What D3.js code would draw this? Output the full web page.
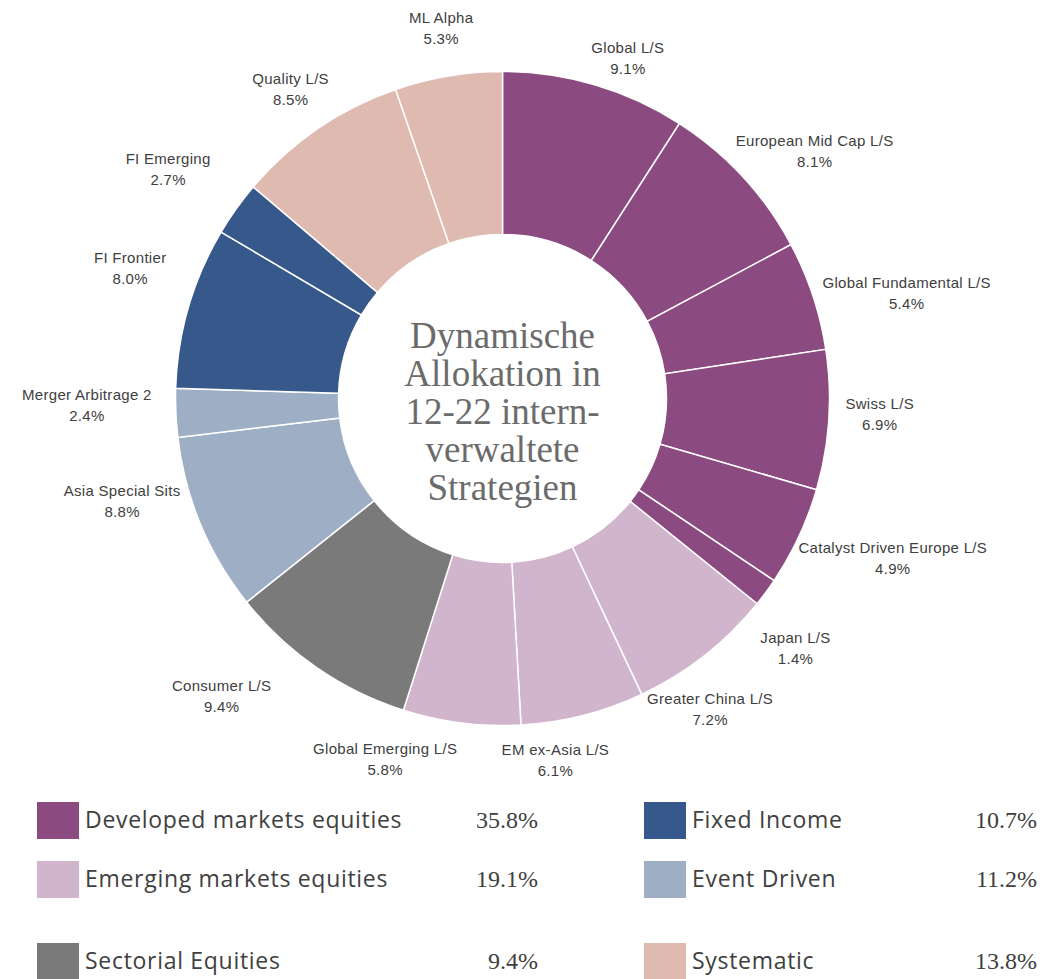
<!DOCTYPE html>
<html>
<head>
<meta charset="utf-8">
<script src="https://cdn.jsdelivr.net/npm/d3@7"></script>
<style>
  body { margin: 0; background: #fff; }
  .slice-label { font-family: "Liberation Sans", Arial, sans-serif; font-size: 15px; letter-spacing: 0.3px; fill: #404040; }
  .center-title { font-family: "Liberation Serif", serif; font-size: 37px; fill: #6b6b6b; }
  .legend-name { font-family: "Open Sans", sans-serif; font-size: 23px; letter-spacing: 0.7px; fill: #404040; }
  .legend-value { font-family: "Liberation Serif", serif; font-size: 24px; fill: #404040; }
</style>
</head>
<body>
<div id="chart"></div>
<script>
// strategies, clockwise from 12 o'clock
const strategies = ["Global L/S", "European Mid Cap L/S", "Global Fundamental L/S", "Swiss L/S",
  "Catalyst Driven Europe L/S", "Japan L/S", "Greater China L/S", "EM ex-Asia L/S",
  "Global Emerging L/S", "Consumer L/S", "Asia Special Sits", "Merger Arbitrage 2",
  "FI Frontier", "FI Emerging", "Quality L/S", "ML Alpha"];
const weights = [9.1, 8.1, 5.4, 6.9, 4.9, 1.4, 7.2, 6.1, 5.8, 9.4, 8.8, 2.4, 8.0, 2.7, 8.5, 5.3];
const groupOf = ["DM", "DM", "DM", "DM", "DM", "DM", "EM", "EM", "EM", "SE", "ED", "ED", "FI", "FI", "SY", "SY"];

const groupKeys = ["DM", "EM", "SE", "FI", "ED", "SY"];
const groupNames = ["Developed markets equities", "Emerging markets equities", "Sectorial Equities",
  "Fixed Income", "Event Driven", "Systematic"];
const groupColors = ["#8c4b80", "#d0b5cd", "#7a7a7a", "#37588b", "#9eaec4", "#dfbab1"];

const centerLines = ["Dynamische", "Allokation in", "12-22 intern-", "verwaltete", "Strategien"];

// hand nudges for labels (the original was laid out by hand)
const labelNudge = {
  "Global L/S": [21, 14], "European Mid Cap L/S": [40, 3], "Global Fundamental L/S": [53, 11],
  "Swiss L/S": [8, -9], "Catalyst Driven Europe L/S": [55, 3], "Japan L/S": [-5, 30],
  "Greater China L/S": [-21, 20], "EM ex-Asia L/S": [-38, 3], "Global Emerging L/S": [-71, -7],
  "Consumer L/S": [-71, -7], "Asia Special Sits": [-39, -40], "Merger Arbitrage 2": [-46, -10],
  "FI Frontier": [-17, -27], "FI Emerging": [-33, -15], "Quality L/S": [-3, -4], "ML Alpha": [0, -6]
};

const width = 1054, height = 979;
const cx = 502.5, cy = 398.5;
const outerR = 327, innerR = 164, labelR = 370;

const data = strategies.map((s, i) => ({ name: s, value: weights[i], group: groupOf[i] }));
const color = d3.scaleOrdinal().domain(groupKeys).range(groupColors);

const svg = d3.select("#chart").append("svg")
  .attr("width", width)
  .attr("height", height);

const pie = d3.pie().sort(null).value(d => d.value);
const arc = d3.arc().innerRadius(innerR).outerRadius(outerR);
const labelArc = d3.arc().innerRadius(labelR).outerRadius(labelR);

const g = svg.append("g").attr("transform", `translate(${cx},${cy})`);
const arcs = pie(data);

g.selectAll("path.slice")
  .data(arcs)
  .join("path")
  .attr("class", "slice")
  .attr("d", arc)
  .attr("fill", d => color(d.data.group))
  .attr("stroke", "#fff")
  .attr("stroke-width", 1.5);

// slice labels
const labels = g.selectAll("text.slice-label")
  .data(arcs)
  .join("text")
  .attr("class", "slice-label")
  .attr("text-anchor", "middle")
  .attr("transform", d => {
    const [x, y] = labelArc.centroid(d);
    const n = labelNudge[d.data.name] || [0, 0];
    return `translate(${x + n[0]},${y + n[1]})`;
  });
labels.append("tspan").attr("x", 0).attr("y", -5).text(d => d.data.name);
labels.append("tspan").attr("x", 0).attr("y", 16).text(d => d.data.value.toFixed(1) + "%");

// centre title
g.append("text")
  .attr("class", "center-title")
  .attr("text-anchor", "middle")
  .selectAll("tspan")
  .data(centerLines)
  .join("tspan")
  .attr("x", 0)
  .attr("y", (d, i) => -51 + i * 38)
  .text(d => d);

// legend
const totals = groupKeys.map(k => d3.sum(data.filter(d => d.group === k), d => d.value));
const colX = [37, 644];
const valX = [538, 1037];
const rowY = [802, 861, 943];

const legend = svg.append("g").attr("class", "legend");
const items = legend.selectAll("g.item")
  .data(groupKeys)
  .join("g")
  .attr("class", "item")
  .attr("transform", (d, i) => `translate(0,${rowY[i % 3]})`);

items.append("rect")
  .attr("x", (d, i) => colX[Math.floor(i / 3)])
  .attr("width", 42)
  .attr("height", 37)
  .attr("fill", d => color(d));

items.append("text")
  .attr("class", "legend-name")
  .attr("x", (d, i) => colX[Math.floor(i / 3)] + 48)
  .attr("y", 26)
  .text((d, i) => groupNames[i]);

items.append("text")
  .attr("class", "legend-value")
  .attr("text-anchor", "end")
  .attr("x", (d, i) => valX[Math.floor(i / 3)])
  .attr("y", 26)
  .text((d, i) => totals[i].toFixed(1) + "%");
</script>
</body>
</html>
